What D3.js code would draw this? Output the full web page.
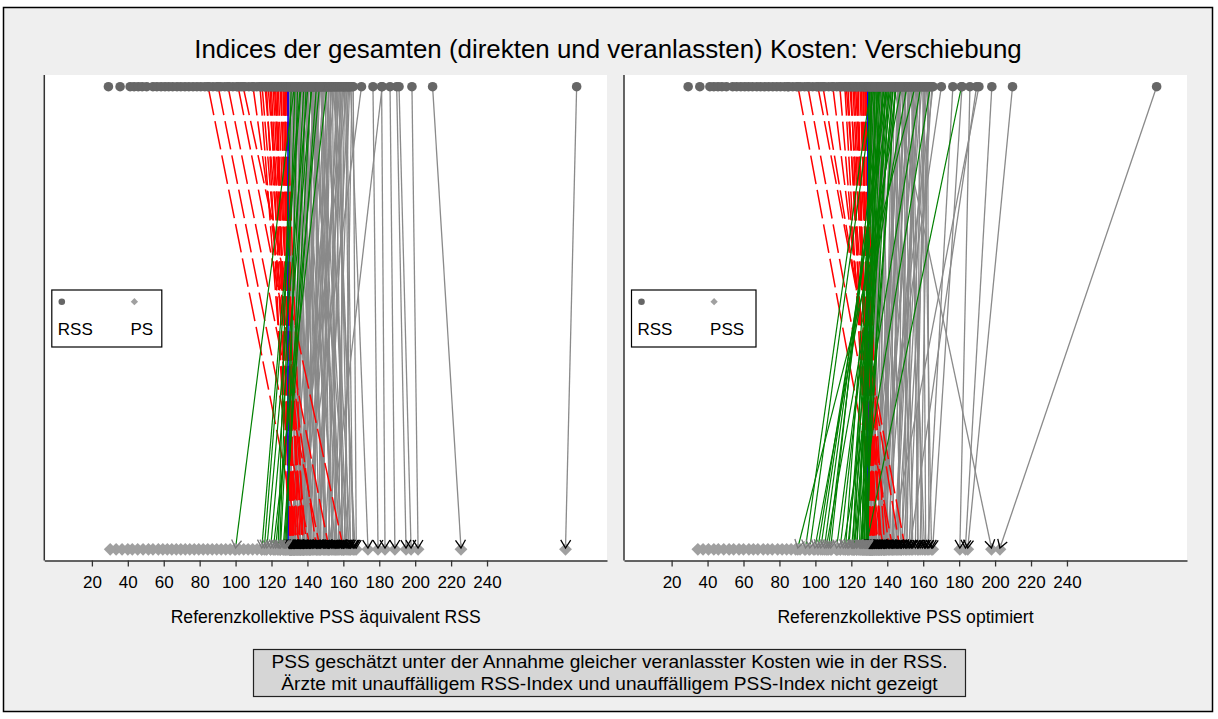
<!DOCTYPE html>
<html>
<head>
<meta charset="utf-8">
<script src="https://cdn.jsdelivr.net/npm/d3@7"></script>
<style>
  html, body { margin: 0; padding: 0; background: #ffffff; }
  svg { display: block; }
  text { font-family: "Liberation Sans", Arial, Helvetica, sans-serif; fill: #000; }
</style>
</head>
<body>
<svg id="chart" width="1218" height="719"></svg>
<script>
// Cost indices per physician: RSS index, PS index (equivalent RSS) and PSS index (optimised)
const rssIndex = [
  29.2, 35.7, 41.3, 43.5, 45.8, 48, 50.5, 54, 56.2, 58.5, 60.7, 62.8, 65, 67.4, 69.5, 71.8, 74, 76.3, 78.5, 80.6,
  82.9, 85.1, 87.4, 89.6, 91.8, 94, 96.3, 98.5, 100.7, 103, 105.2, 107.4, 109.6, 111.9, 114, 116.3, 118.5, 120.7, 122.9, 125.1, 127.3,
  84.7, 90.3, 95.8, 101.4, 104.2, 109.7, 113.6, 116.4, 119.2, 120.9, 123.1, 124.8, 126.4, 127.5, 128.7,
  114.8, 117.2, 118.1, 119.9, 121.6, 122.3, 123.8, 125.5, 126.9, 127.9, 128.3, 129.1,
  129.8, 130.4, 131, 131.7, 132.3, 132.7, 133.4, 134, 134.5, 135.2, 136, 136.7, 137.3, 138, 138.8, 139.5, 140.3, 141, 141.8, 142.5,
  143.2, 143.7, 144.5, 145, 146, 147, 147.8, 148.6, 149.5, 150.4, 150.9, 151.8, 152.7, 153.5, 154.6, 155.5, 156.6, 157.5, 158.6, 159.8,
  160.7, 161.9, 163, 164, 164.8,
  129.6, 130.1, 130.7, 131.3, 132, 132.9, 133.7, 134.3, 135, 135.6, 136.3, 137, 137.6, 138.4, 139.1, 139.8, 140.6, 141.4, 142.1, 142.9,
  143.5, 144.1, 144.8, 145.5, 146.4, 147.3, 148.1, 149, 149.9, 150.7, 151.4, 152.2, 153.1, 154, 155, 156, 157, 158, 159.2, 160.3,
  161.3, 162.5, 163.5, 165.5, 130.9, 133.1, 136.5, 139.3, 142.7, 146.7,
  170.1, 176.5, 181.3, 181.6, 186, 189.7, 191, 198.2, 209.7, 289.9
];
const psIndex = [
  33.5, 30.2, 40, 36.8, 45.5, 42.5, 51.5, 48.5, 57, 54, 62, 59.5, 67, 64.5, 72, 69.5, 77, 74.5, 82, 79.5,
  87, 84.5, 92, 89.5, 97, 94.5, 102, 99.5, 107, 104.5, 112, 109.5, 117, 114.5, 121.5, 119.5, 125, 123.5, 127.8, 126.5, 128.8,
  136, 141.5, 147, 152, 160, 145, 133, 138, 131, 134, 130.5, 136, 132, 130, 131.5,
  135.5, 130.2, 139.5, 132.8, 137.2, 130.9, 133.6, 131.1, 134.8, 130.4, 137.7, 132.3,
  131.2, 129.9, 123.7, 134.6, 138.5, 100, 130.6, 142, 128.5, 136.2, 114.6, 145.8, 133, 125, 150, 140.4, 117.4, 132.2, 154.3, 119.5,
  137.4, 147.6, 158, 126.5, 143.5, 135.4, 161.5, 152.4, 139, 164.2, 121, 148.7, 156.1, 141.3, 166.5, 159.7, 144.9, 162.8, 153.2, 136.8,
  157.3, 165.4, 149.6, 173.7, 160.5,
  133.5, 137.8, 130.3, 141.7, 132.8, 146.3, 135.9, 129.7, 151.2, 139.6, 131.9, 155.4, 142.6, 134.1, 160.1, 146.9, 138.1, 163.4, 127.2, 150.8,
  131.4, 156.7, 140.9, 144.2, 135, 158.8, 149.1, 130.8, 153.7, 143, 162.1, 137.9, 147.1, 155.8, 134.4, 165.9, 151.7, 140, 159.1, 145.4,
  163.9, 132.5, 154.9, 167.2, 130.2, 124.6, 116, 127.9, 141.1, 122.3,
  136.5, 179.3, 183.2, 152, 188.7, 194.9, 197.7, 201.6, 225.5, 283.7
];
const pssIndex = [
  37.5, 34.6, 43.5, 40.5, 49, 46, 54.5, 52, 60, 57.5, 65.5, 63, 71, 68, 76, 73.5, 81.5, 79, 86.5, 84,
  91.5, 89, 96.5, 94, 101.5, 99, 106.5, 104, 111.5, 109, 116.5, 114, 121.5, 119, 126.5, 124, 128.5, 112.5, 118, 123, 127,
  112, 138, 143, 150, 147, 141, 135, 131, 137, 133, 130.5, 134, 130, 132, 131,
  129, 136.8, 131.6, 129.8, 134.4, 138.6, 130.7, 133.1, 130.2, 135.7, 131.9, 132.6,
  128.3, 131.5, 126, 124.5, 133.8, 96.9, 127.2, 137, 121.5, 129, 108.5, 140.5, 125.3, 118.6, 130.2, 122.8, 103, 127.9, 143.6, 113.8,
  120.1, 198, 126.6, 111.8, 135.8, 139.4, 99.7, 146.2, 150.5, 133.6, 106, 138.7, 145.1, 157.2, 151, 90.2, 136.9, 144.8, 115.5, 161.4,
  155.6, 147.9, 158.3, 121, 149,
  133, 127.4, 136.1, 125.9, 130.9, 120.7, 139.2, 128.6, 116.8, 132, 123.1, 142.3, 129.7, 107.3, 126.2, 134.9, 121.8, 147.5, 101.4, 129.9,
  118, 138.2, 125, 153.6, 142.8, 131.3, 131.8, 141, 154.2, 135.2, 160.7, 138.3, 130.6, 159.5, 148, 136.5, 143.9, 156.9, 139.8, 164.6,
  145.7, 163.2, 152.1, 134.3, 94.5, 129.3, 131.7, 105, 137.9, 135.4,
  132.5, 162.5, 128.1, 165.3, 180.4, 152.6, 141.6, 183.5, 184.8, 202.7
];
const xTicks = [20, 40, 60, 80, 100, 120, 140, 160, 180, 200, 220, 240];
const xDomain = [-6.5, 306.8];
const threshold = 129.5;   // limit of an unremarkable index
const thresholdMark = 129.2;

const titleText = "Indices der gesamten (direkten und veranlassten) Kosten: Verschiebung";
const noteLines = [
  "PSS geschätzt unter der Annahme gleicher veranlasster Kosten wie in der RSS.",
  "Ärzte mit unauffälligem RSS-Index und unauffälligem PSS-Index nicht gezeigt"
];

const panels = [
  { bottom: psIndex,  left: 44.3, right: 607,  key: "PS",  legendW: 110,   xTitle: "Referenzkollektive PSS äquivalent RSS" },
  { bottom: pssIndex, left: 624,  right: 1187, key: "PSS", legendW: 124.5, xTitle: "Referenzkollektive PSS optimiert" }
];

const svg = d3.select("#chart");
const plotTop = 75, plotBottom = 560.5;
const y = d3.scaleLinear().domain([0, 1]).range([548, 86.7]);   // 0 = comparison row, 1 = RSS row
const diamondY = y(0) + 1.3;

// outer frame
svg.append("rect")
  .attr("x", 3.5).attr("y", 7.5).attr("width", 1209).attr("height", 704)
  .attr("fill", "#efefef").attr("stroke", "#000").attr("stroke-width", 1.5);

svg.append("text")
  .attr("x", 608).attr("y", 58).attr("text-anchor", "middle")
  .attr("font-size", 25.9).text(titleText);

const diamond = d3.symbol().type(d3.symbolDiamond2);

function arrowPath(x1, y1, x2, y2) {
  const a = Math.atan2(y1 - y2, x1 - x2);
  const len = 9.4, spread = 0.56;
  const p1 = [x2 + len * Math.cos(a + spread), y2 + len * Math.sin(a + spread)];
  const p2 = [x2 + len * Math.cos(a - spread), y2 + len * Math.sin(a - spread)];
  return `M${p1[0]},${p1[1]}L${x2},${y2}L${p2[0]},${p2[1]}`;
}

panels.forEach(p => {
  const x = d3.scaleLinear().domain(xDomain).range([p.left, p.right]);
  const g = svg.append("g");

  g.append("rect")
    .attr("x", p.left).attr("y", plotTop)
    .attr("width", p.right - p.left).attr("height", plotBottom - plotTop)
    .attr("fill", "#ffffff");

  const docs = rssIndex.map((r, i) => ({ rss: r, cmp: p.bottom[i] }));
  const kind = d => d.rss < threshold
    ? (d.cmp >= threshold ? "up" : "none")
    : (d.cmp < threshold ? "down" : "both");
  const both = docs.filter(d => kind(d) === "both");
  const up = docs.filter(d => kind(d) === "up");
  const down = docs.filter(d => kind(d) === "down");

  const seg = (sel, data, color, width, dash) => sel.selectAll(null).data(data).enter().append("line")
    .attr("x1", d => x(d.rss)).attr("y1", y(1))
    .attr("x2", d => x(d.cmp)).attr("y2", y(0))
    .attr("stroke", color).attr("stroke-width", width)
    .attr("stroke-dasharray", dash || null);

  // both indices remarkable
  seg(g, both, "#8a8a8a", 1.3);
  // RSS unremarkable, comparison index remarkable
  seg(g, up, "#ff0000", 1.5, "29,6");
  // threshold
  g.append("line")
    .attr("x1", x(thresholdMark)).attr("x2", x(thresholdMark))
    .attr("y1", y(1)).attr("y2", y(0))
    .attr("stroke", "#0000ff").attr("stroke-width", 1.6);
  // RSS remarkable, comparison index unremarkable
  seg(g, down, "#008000", 1.2);

  // RSS row
  g.selectAll(null).data(docs).enter().append("circle")
    .attr("cx", d => x(d.rss)).attr("cy", y(1)).attr("r", 4.8)
    .attr("fill", "#666666");
  // comparison row
  g.selectAll(null).data(docs).enter().append("path")
    .attr("d", diamond.size(105))
    .attr("transform", d => `translate(${x(d.cmp)},${diamondY})`)
    .attr("fill", "#a0a0a0");

  // arrow heads
  g.selectAll(null).data(both.concat(up)).enter().append("path")
    .attr("d", d => arrowPath(x(d.rss), y(1), x(d.cmp), y(0)))
    .attr("fill", "none").attr("stroke", "#000").attr("stroke-width", 1.3);
  g.selectAll(null).data(down).enter().append("path")
    .attr("d", d => arrowPath(x(d.rss), y(1), x(d.cmp), y(0)))
    .attr("fill", "none").attr("stroke", "#7a7a7a").attr("stroke-width", 1.3);

  // axes
  const ax = g.append("g").attr("transform", `translate(0,${plotBottom})`)
    .call(d3.axisBottom(x).tickValues(xTicks).tickSize(6).tickSizeOuter(0).tickPadding(9));
  ax.select(".domain").attr("stroke", "#333").attr("stroke-width", 1.5);
  ax.selectAll(".tick line").attr("stroke", "#333").attr("stroke-width", 1.3);
  ax.selectAll(".tick text").attr("font-size", 17)
    .attr("font-family", "'Liberation Sans', Arial, sans-serif").attr("fill", "#000");

  g.append("line")
    .attr("x1", p.left).attr("x2", p.left)
    .attr("y1", plotTop).attr("y2", plotBottom)
    .attr("stroke", "#333").attr("stroke-width", 1.5);

  g.append("text")
    .attr("x", (p.left + p.right) / 2).attr("y", 623)
    .attr("text-anchor", "middle").attr("font-size", 17.6)
    .text(p.xTitle);

  // legend
  const lx = p.left + 7.5, ly = 290;
  const lg = g.append("g");
  lg.append("rect").attr("x", lx).attr("y", ly).attr("width", p.legendW).attr("height", 57)
    .attr("fill", "#ffffff").attr("stroke", "#000").attr("stroke-width", 1.2);
  lg.append("circle").attr("cx", lx + 10).attr("cy", ly + 11.7).attr("r", 3.3).attr("fill", "#666666");
  lg.append("path").attr("d", diamond.size(34))
    .attr("transform", `translate(${lx + 82.6},${ly + 11.7})`).attr("fill", "#a0a0a0");
  lg.append("text").attr("x", lx + 6).attr("y", ly + 45).attr("font-size", 17).text("RSS");
  lg.append("text").attr("x", lx + 78.6).attr("y", ly + 45).attr("font-size", 17).text(p.key);
});

// note box
const note = svg.append("g");
note.append("rect").attr("x", 253.5).attr("y", 649.5).attr("width", 712).attr("height", 47)
  .attr("fill", "#d6d6d6").attr("stroke", "#222").attr("stroke-width", 1.2);
note.selectAll(null).data(noteLines).enter().append("text")
  .attr("x", 609.5).attr("y", (d, i) => 668 + i * 21.5)
  .attr("text-anchor", "middle").attr("font-size", 19.1)
  .text(d => d);
</script>
</body>
</html>
